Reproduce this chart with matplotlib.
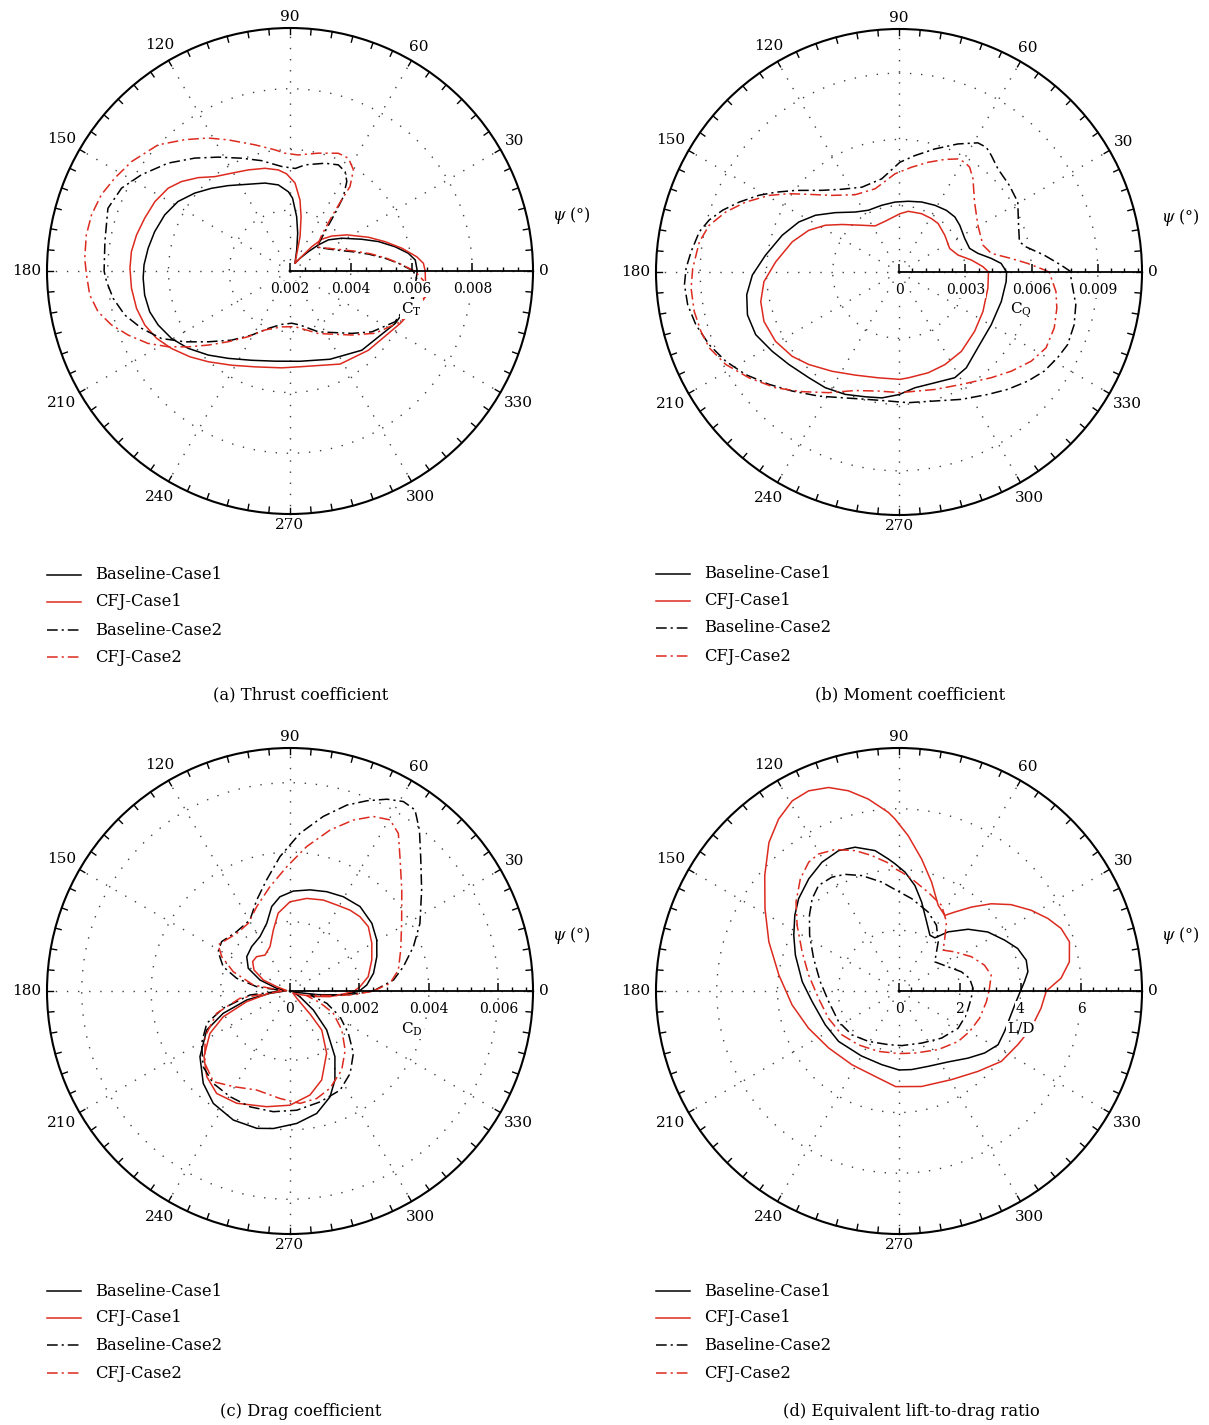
import numpy as np
import matplotlib.pyplot as plt
from matplotlib.lines import Line2D

plt.rcParams['font.family'] = 'DejaVu Serif'
plt.rcParams['mathtext.fontset'] = 'dejavuserif'

W, H = 1209, 1425
R_PX = 243
RED = '#dd2a1e'
DASHDOT = (0, (7, 2.6, 1.4, 2.6))

series_names = ['Baseline-Case1', 'CFJ-Case1', 'Baseline-Case2', 'CFJ-Case2']
STYLES = [('k', '-'), (RED, '-'), ('k', DASHDOT), (RED, DASHDOT)]

# ---------------- thrust coefficient C_T vs azimuth psi (deg)
ct_psi_b1 = [0, 5, 8.5, 13, 18.4, 23.9, 32.3, 39, 42.6, 46.5, 51.8, 57, 72.3, 78.5, 83, 85, 88, 91.2, 97.7,
             105.9, 115.7, 125.9, 133.4, 140.7, 148.2, 155.9, 163.8, 170.9, 177.6, 182.8, 189.4, 196.2, 202.3,
             209.6, 217.2, 225.8, 234.8, 246.7, 260.5, 276.3, 294.4, 312.2, 333.5, 347.5, 360]
ct_b1 = [0.00619, 0.00614, 0.00594, 0.00555, 0.00507, 0.00458, 0.00402, 0.00363, 0.00327, 0.00288, 0.00253,
         0.0023, 0.00273, 0.00327, 0.0038, 0.0040, 0.0044, 0.00461, 0.00486, 0.00501, 0.00517, 0.00547, 0.00575,
         0.00605, 0.00634, 0.00652, 0.00664, 0.00673, 0.00681, 0.00684, 0.00685, 0.00681, 0.00669, 0.00649,
         0.00621, 0.00586, 0.00552, 0.0052, 0.00501, 0.00499, 0.00519, 0.00552, 0.00587, 0.00616, 0.00619]

ct_psi_c1 = [0, 3.3, 6.4, 11.5, 17.1, 23.3, 32.4, 40, 45, 48.2, 50.3, 57, 73.7, 78.5, 82, 86.7, 92, 96.6, 103.7,
             112.4, 120.8, 128.5, 134.5, 140.5, 145.8, 152.8, 160, 166.8, 173, 179, 186.2, 193.7, 200.4, 206.8,
             213.2, 220.6, 228, 238.2, 249.9, 265.1, 276, 298.3, 314.7, 334.6, 349.4, 360]
ct_c1 = [0.00645, 0.0064, 0.0062, 0.00576, 0.00528, 0.00481, 0.00422, 0.00379, 0.00348, 0.00307, 0.00269,
         0.0023, 0.00318, 0.00383, 0.00436, 0.0049, 0.0052, 0.00535, 0.00548, 0.0056, 0.00575, 0.00597, 0.00631,
         0.00663, 0.00685, 0.007, 0.00709, 0.00719, 0.00726, 0.00727, 0.00725, 0.0072, 0.0071, 0.00692, 0.00666,
         0.00634, 0.00602, 0.00565, 0.00536, 0.0052, 0.00517, 0.00548, 0.00567, 0.00602, 0.00655, 0.00645]

ct_psi_b2 = [0, 4.1, 7.6, 12.2, 17.4, 25, 41.6, 49.3, 52, 54.3, 57.6, 61, 65.5, 72, 81.9, 87, 94.5, 104.4, 113.2,
             122.2, 130.1, 138.5, 147.1, 153.8, 161, 171, 180, 183.3, 188.8, 194.9, 201.1, 207.7, 214, 220.9,
             229.8, 239.1, 249.3, 261.1, 271.9, 280.5, 295, 314.7, 323.4, 334.2, 348, 356, 360]
ct_b2 = [0.00606, 0.00558, 0.00516, 0.00464, 0.00413, 0.00364, 0.00318, 0.00386, 0.00441, 0.00501, 0.00549,
         0.00574, 0.00584, 0.00573, 0.00553, 0.00538, 0.00545, 0.00575, 0.00604, 0.00643, 0.00686, 0.00736,
         0.00783, 0.00818, 0.00834, 0.00817, 0.00812, 0.00805, 0.00789, 0.00763, 0.00724, 0.00678, 0.00617,
         0.00556, 0.00498, 0.00446, 0.00402, 0.00378, 0.00372, 0.00381, 0.00421, 0.00489, 0.00536, 0.00584,
         0.00612, 0.0062, 0.00606]

ct_psi_c2 = [0, 4, 7.6, 12.2, 17.4, 25, 41.6, 48.6, 52.5, 54, 54.6, 57.9, 62.6, 67.7, 76.5, 85.9, 92.4, 97.1,
             105.5, 115.2, 121.6, 128.7, 136.3, 145.4, 152.1, 158, 164.2, 170, 176.5, 181.1, 186.8, 192, 196.8,
             201.6, 207, 211.9, 216.7, 222.2, 228.9, 237.6, 247, 261.5, 275.1, 294.4, 314, 323.8, 334.5, 348, 356,
             360]
ct_c2 = [0.0061, 0.0056, 0.0052, 0.0047, 0.0042, 0.0037, 0.00318, 0.00358, 0.00426, 0.00489, 0.00541, 0.00593,
         0.00618, 0.00619, 0.00599, 0.00583, 0.00588, 0.00602, 0.00631, 0.00677, 0.00714, 0.00754, 0.00801,
         0.00834, 0.00853, 0.0087, 0.00879, 0.00881, 0.00877, 0.0087, 0.00864, 0.00846, 0.00814, 0.00773, 0.00725,
         0.00672, 0.00618, 0.00563, 0.00509, 0.00456, 0.00411, 0.00386, 0.00384, 0.00426, 0.00493, 0.00547,
         0.00596, 0.0065, 0.0064, 0.0061]

# ---------------- moment coefficient C_Q
cq_psi_b1 = [0, 4.8, 8.4, 13.3, 18.5, 27, 37.6, 44.6, 52.4, 61.7, 72.1, 82.5, 93.3, 104.5, 116.3, 126.1, 137,
             145.8, 153.5, 162.5, 172.8, 181.2, 188.5, 195.8, 203.6, 212, 220, 229.5, 237.5, 246.3, 255, 262.3,
             270, 277.8, 287.9, 297.8, 305.1, 316.1, 330.2, 343.9, 354.9, 360]
cq_b1 = [0.00487, 0.00464, 0.00422, 0.00367, 0.00337, 0.00334, 0.00347, 0.00355, 0.00352, 0.00343, 0.00333,
         0.00323, 0.00317, 0.00312, 0.00312, 0.00336, 0.00394, 0.00457, 0.00507, 0.00554, 0.00609, 0.00664,
         0.00697, 0.00713, 0.00708, 0.00677, 0.00651, 0.00629, 0.00621, 0.00605, 0.00585, 0.00575, 0.00555,
         0.00529, 0.00527, 0.00541, 0.0053, 0.00495, 0.00481, 0.00482, 0.00487, 0.00487]

cq_psi_c1 = [0, 3.6, 9.4, 16, 24.9, 38.8, 51.1, 58.7, 68.9, 81.3, 89, 105.4, 117.4, 128.4, 140.2, 147.6, 155.2,
             164.2, 175.3, 184.1, 192.1, 200.1, 209.3, 218.3, 225.7, 236, 247, 259, 270.5, 275, 286.1, 296.3,
             308.2, 321.9, 334.8, 349.7, 360]
cq_c1 = [0.00405, 0.00381, 0.00332, 0.00278, 0.00253, 0.00266, 0.00282, 0.00283, 0.00283, 0.00278, 0.00264,
         0.00238, 0.00235, 0.0027, 0.00336, 0.00395, 0.0045, 0.00502, 0.0056, 0.00613, 0.0064, 0.00651, 0.00641,
         0.00616, 0.00585, 0.00542, 0.00507, 0.00488, 0.00486, 0.00481, 0.00475, 0.00468, 0.00457, 0.00435,
         0.0042, 0.00409, 0.00405]

cq_psi_b2 = [0, 2.5, 6.6, 11.2, 14.1, 22.7, 30.5, 38.1, 46.2, 51.6, 55, 58.6, 65.3, 73.8, 82.2, 89.5, 100.5,
             113.6, 124.6, 133.3, 141.7, 147.1, 151.3, 156.4, 160.7, 164.7, 168.6, 174.5, 179, 183.4, 188.8, 194.6,
             201, 207.3, 213.8, 220.8, 228.1, 237.1, 245.6, 255.1, 265.3, 274, 285.5, 296.1, 306, 312.8, 319.7,
             325.7, 331.6, 336.7, 343.2, 349.5, 358.4, 360]
cq_b2 = [0.0078, 0.00733, 0.00662, 0.00586, 0.00562, 0.00586, 0.00624, 0.00635, 0.00647, 0.00673, 0.00689,
         0.00685, 0.00638, 0.0058, 0.00532, 0.00497, 0.00429, 0.00419, 0.00455, 0.00508, 0.00596, 0.00665,
         0.00723, 0.0079, 0.00846, 0.00891, 0.00922, 0.00946, 0.00964, 0.00973, 0.00968, 0.0095, 0.0092, 0.00882,
         0.00835, 0.00778, 0.00724, 0.00669, 0.00625, 0.00596, 0.00586, 0.00593, 0.00606, 0.00642, 0.00685,
         0.00724, 0.00764, 0.00796, 0.00816, 0.00831, 0.00828, 0.00814, 0.00778, 0.0078]

cq_psi_c2 = [0, 1.5, 3.8, 6.9, 11.4, 17.8, 30.6, 42.8, 51.6, 56, 59.1, 62.5, 67.9, 75.1, 83.1, 92.3, 106, 119.5,
             131.2, 139.3, 144.6, 149.5, 155.5, 160.9, 166.2, 171.4, 179, 184.5, 190.9, 196.7, 201.8, 208.1, 215.2,
             223.2, 231, 239.8, 249.7, 260.2, 270.5, 287, 299, 311.1, 318.5, 326, 332.7, 340.2, 347.1, 352.9, 360]
cq_c2 = [0.0068, 0.0064, 0.00584, 0.00511, 0.00426, 0.00399, 0.00415, 0.00466, 0.00539, 0.00572, 0.00579,
         0.00577, 0.0055, 0.00514, 0.00478, 0.00445, 0.00392, 0.00402, 0.00461, 0.00539, 0.00612, 0.00683,
         0.00763, 0.0083, 0.00885, 0.00914, 0.00934, 0.00944, 0.00944, 0.00936, 0.00925, 0.00889, 0.00831,
         0.00766, 0.00697, 0.00632, 0.00572, 0.00547, 0.00546, 0.00556, 0.00582, 0.00635, 0.00678, 0.00722,
         0.00749, 0.00747, 0.00733, 0.00716, 0.0068]

# ---------------- drag coefficient C_D
cd_psi_b1 = [0, 4.5, 12, 21.6, 30.5, 39.6, 50.3, 60.5, 69.7, 78.8, 88.1, 96.1, 102.2, 109, 118.9, 130.8, 141.6,
             151.4, 159.9, 168.5, 176, 186.6, 191.7, 198.5, 205.1, 216.1, 226.8, 235.7, 246.3, 256.4, 263.1, 272.9,
             282.3, 290.7, 296.8, 304.4, 313.3, 320.8, 330, 340, 350, 352.5, 355.7, 360]
cd_b1 = [0.002, 0.00222, 0.00246, 0.00269, 0.0029, 0.00306, 0.00316, 0.00312, 0.00305, 0.00297, 0.00288,
         0.00273, 0.00249, 0.00206, 0.00179, 0.00169, 0.00159, 0.00137, 0.00092, 0.00039, 0.0001, 0.00058,
         0.00127, 0.00203, 0.00265, 0.00321, 0.00365, 0.00392, 0.00406, 0.00407, 0.00399, 0.00382, 0.00361,
         0.00326, 0.00287, 0.00229, 0.00154, 0.00087, 0.00033, 0.0001, 0.0003, 0.0008, 0.00154, 0.002]

cd_psi_c1 = [0, 3.5, 10.4, 20.8, 30.3, 39.4, 46.7, 53.5, 61.5, 69.9, 79.8, 90, 98.6, 105.3, 114.3, 124.8, 134.2,
             141.8, 149.7, 157.6, 162, 172, 186, 193.9, 201.1, 207.9, 217.4, 225.8, 234.4, 244.6, 258.6, 270,
             280.9, 289.6, 300.5, 309.1, 311, 313, 325, 340, 347, 351.9, 357.7, 360]
cd_c1 = [0.00185, 0.00202, 0.00229, 0.00252, 0.00273, 0.00292, 0.00294, 0.0029, 0.00282, 0.00279, 0.00271,
         0.00257, 0.00227, 0.00182, 0.0014, 0.00126, 0.00138, 0.00137, 0.0012, 0.00083, 0.0004, 0.0001, 0.0006,
         0.00129, 0.00206, 0.00261, 0.00312, 0.00344, 0.00363, 0.00358, 0.0034, 0.00329, 0.00305, 0.00272,
         0.00208, 0.00145, 0.0009, 0.0003, 0.0001, 0.0003, 0.0007, 0.00116, 0.00163, 0.00185]

cd_psi_b2 = [0, 6.1, 12.1, 19.8, 27.5, 37.5, 45.8, 51.2, 55.4, 59.1, 63.2, 68, 73, 79.2, 86.4, 94.3, 101.9, 110.1,
             119.4, 132, 144.2, 151.3, 160, 166.6, 172.6, 178, 185.7, 194.5, 201.2, 210.6, 221.1, 230.3, 240.4,
             250.9, 262.1, 273.2, 285.2, 296.8, 306.1, 315.5, 324, 332.8, 341.5, 346.3, 350, 353, 356.5, 360]
cd_b2 = [0.0024, 0.003, 0.00334, 0.00378, 0.00422, 0.00478, 0.0054, 0.00595, 0.00634, 0.00636, 0.00619, 0.00591,
         0.0056, 0.00512, 0.00455, 0.00388, 0.00327, 0.00279, 0.00235, 0.0023, 0.00243, 0.00236, 0.00205,
         0.00158, 0.00097, 0.0002, 0.00116, 0.00199, 0.00257, 0.00296, 0.00332, 0.00346, 0.0035, 0.00353,
         0.00351, 0.00344, 0.00331, 0.0032, 0.00294, 0.00256, 0.00208, 0.00162, 0.00112, 0.00069, 0.0006, 0.001,
         0.0017, 0.0024]

cd_psi_c2 = [0, 4.4, 11, 20.3, 31.2, 42.1, 50.7, 55.5, 59.7, 64.5, 69.7, 76, 83.4, 91.5, 100.9, 111.6, 121.6,
             132.7, 147.3, 153.3, 161.2, 170.7, 178, 188.3, 196.9, 208.3, 220.4, 229.8, 239.4, 251.4, 264.7, 275.1,
             284, 292.3, 303.2, 313, 323, 332.8, 338.7, 344.3, 350, 354, 357, 360]
cd_c2 = [0.0024, 0.00289, 0.00318, 0.0034, 0.00376, 0.00434, 0.005, 0.00551, 0.00571, 0.00557, 0.00525, 0.00478,
         0.00419, 0.00358, 0.00306, 0.00261, 0.00229, 0.00226, 0.00246, 0.0022, 0.00173, 0.00107, 0.0002,
         0.00146, 0.00221, 0.00278, 0.00322, 0.00342, 0.0032, 0.00301, 0.00311, 0.00325, 0.00319, 0.00303,
         0.00272, 0.00233, 0.00187, 0.0014, 0.00093, 0.0005, 0.0007, 0.0013, 0.0019, 0.0024]

# ---------------- equivalent lift-to-drag ratio L/D
ld_psi_b1 = [0, 4.2, 8.5, 13.6, 19.7, 25.7, 33.6, 41.8, 50.3, 56, 61, 68.2, 75.7, 81.4, 87.1, 91.8, 94.6, 99.7,
             107, 113.3, 120.9, 128.8, 137.4, 144, 152.1, 160.9, 174.5, 187, 204.7, 219.9, 239.8, 256.8, 270,
             279.1, 291.2, 304.7, 315.8, 324.1, 331.5, 339, 354.8, 360]
ld_b1 = [4.0, 4.14, 4.29, 4.31, 4.15, 3.86, 3.51, 3.05, 2.53, 2.11, 2.1, 2.45, 3.02, 3.51, 3.92, 4.19, 4.36, 4.69,
         4.95, 5.03, 4.94, 4.74, 4.49, 4.24, 3.92, 3.61, 3.2, 2.88, 2.67, 2.59, 2.47, 2.49, 2.6, 2.62, 2.66, 2.84,
         3.17, 3.48, 3.71, 3.72, 3.87, 4.0]

ld_psi_c1 = [0, 4.5, 9.7, 16.1, 21.1, 26, 31.4, 37.6, 43.4, 49.2, 54.8, 58.8, 65.4, 73.3, 80.3, 86.6, 91.3, 93.4,
             99.1, 104.2, 109.1, 114.3, 119.3, 125, 131.2, 139.3, 148.4, 159.3, 172.4, 187.4, 202.4, 219, 237.4,
             254.4, 268, 283.3, 300.6, 314.5, 325.5, 335.6, 344.3, 353.1, 360]
ld_c1 = [4.85, 5.35, 5.69, 5.84, 5.72, 5.45, 5.1, 4.66, 4.18, 3.65, 3.18, 2.91, 3.1, 3.74, 4.41, 5.12, 5.66, 5.89,
         6.4, 6.8, 7.09, 7.23, 7.18, 6.91, 6.5, 5.83, 5.18, 4.58, 3.99, 3.55, 3.22, 2.98, 2.88, 2.92, 3.15, 3.23,
         3.39, 3.71, 4.09, 4.29, 4.52, 4.71, 4.85]

ld_psi_b2 = [0, 2.1, 10.1, 17.1, 26.2, 39.2, 51.4, 60.3, 69.7, 82.2, 91, 99, 107.8, 114.8, 120.5, 127.3, 133.3,
             139.8, 148, 159.1, 173.3, 188.6, 206.8, 222.9, 238.8, 258.8, 272.8, 293.5, 312.1, 327.8, 340.5, 354.3,
             360]
ld_b2 = [2.42, 2.44, 2.36, 2.15, 1.8, 1.52, 2.07, 2.49, 2.77, 3.07, 3.3, 3.63, 3.99, 4.23, 4.35, 4.37, 4.17, 3.86,
         3.47, 3.01, 2.61, 2.34, 2.23, 2.12, 1.94, 1.8, 1.8, 1.87, 2.09, 2.3, 2.35, 2.39, 2.42]

ld_psi_c2 = [0, 1.7, 9.8, 16.8, 25.3, 35.1, 42.8, 48.9, 55.5, 63.6, 73.6, 83.6, 88.7, 91.9, 94.8, 101.4, 107.3,
             114.3, 120.4, 125, 131.3, 139.2, 147.2, 158, 170, 185.2, 201.1, 217.5, 233, 251.2, 270, 284.4, 303.7,
             319.5, 330.2, 341.4, 353, 360]
ld_c2 = [2.96, 2.98, 3.08, 2.94, 2.64, 2.24, 1.98, 2.29, 2.76, 3.15, 3.39, 3.72, 3.91, 4.03, 4.23, 4.55, 4.84,
         5.11, 5.23, 5.18, 4.92, 4.48, 3.99, 3.44, 3.02, 2.66, 2.49, 2.37, 2.22, 2.1, 2.06, 2.11, 2.32, 2.56, 2.68,
         2.8, 2.9, 2.96]

fig = plt.figure(figsize=(W / 100, H / 100), dpi=100)


def polar_panel(cx, cy, rmin, rmax, majors, minor_step, ticklabels, title, curves):
    rect = [(cx - R_PX) / W, 1 - (cy + R_PX) / H, 2 * R_PX / W, 2 * R_PX / H]
    ax = fig.add_axes(rect, projection='polar')
    ax.set_thetagrids(np.arange(0, 360, 30), labels=[''] * 12)
    ax.set_rgrids(majors[1:], labels=[''] * (len(majors) - 1))
    ax.grid(True, color='0.25', linestyle=(0, (1, 7)), linewidth=1.0)
    ax.tick_params(length=0, pad=0)
    ax.spines['polar'].set_linewidth(1.5)

    for (psi, val), (color, ls) in zip(curves, STYLES):
        ax.plot(np.deg2rad(psi), np.clip(val, rmin, rmax), color=color, ls=ls, lw=1.1, zorder=3)

    # rim ticks every 5 degrees, pointing inward
    tick_len = (rmax - rmin) * 6 / R_PX
    for a in np.deg2rad(np.arange(0, 360, 5)):
        ax.plot([a, a], [rmax - tick_len, rmax], color='k', lw=1.0, clip_on=False, zorder=4)

    # radial axis along psi = 0
    minors = [v for v in np.arange(rmin, rmax + 1e-12, minor_step)
              if min(abs(v - m) for m in majors) > minor_step * 0.1 and v < rmax - minor_step * 0.1]
    ax.plot([0, 0], [rmin, rmax], color='k', lw=1.3, zorder=5, clip_on=False)
    ax.plot(np.zeros(len(majors)), majors, ls='none', marker=2, ms=5.5, mew=1.1, color='k',
            zorder=5, clip_on=False)
    ax.plot(np.zeros(len(minors)), minors, ls='none', marker=2, ms=3, mew=1.0, color='k',
            zorder=5, clip_on=False)
    box = dict(boxstyle='square,pad=0.08', fc='white', ec='none')
    for v, s in zip(majors, ticklabels):
        ax.annotate(s, xy=(0, v), xytext=(0, -11), textcoords='offset pixels', ha='center', va='top',
                    fontsize=10, zorder=6, annotation_clip=False, bbox=box)
    ax.annotate(title, xy=(0, (rmin + rmax) / 2), xytext=(0, -38), textcoords='offset pixels',
                ha='center', va='center', fontsize=11, zorder=6, annotation_clip=False, bbox=box)
    ax.annotate(r'$\psi$ (°)', xy=(0, rmax), xytext=(38, 55), textcoords='offset pixels',
                ha='center', va='center', fontsize=11.5, annotation_clip=False)

    # azimuth labels outside the rim
    for a in range(0, 360, 30):
        t = np.deg2rad(a)
        s = str(a)
        d = 6 + 0.5 * 9.5 * len(s) * abs(np.cos(t)) + 5 * abs(np.sin(t))
        ax.annotate(s, xy=(t, rmax), xytext=(d * np.cos(t), d * np.sin(t)), textcoords='offset pixels',
                    ha='center', va='center', fontsize=11, annotation_clip=False)

    ax.set_ylim(rmin, rmax)
    return ax


def legend_block(x0, x1, tx, rows_y, cap_x, cap_y, caption):
    for y, name, (color, ls) in zip(rows_y, series_names, STYLES):
        fig.add_artist(Line2D([x0 / W, x1 / W], [1 - y / H, 1 - y / H], transform=fig.transFigure,
                              color=color, ls=ls, lw=1.1))
        fig.text(tx / W, 1 - y / H, name, ha='left', va='center', fontsize=11.8)
    fig.text(cap_x / W, 1 - cap_y / H, caption, ha='center', va='center', fontsize=11.8)


polar_panel(290, 271, 0.002, 0.010, [0.002, 0.004, 0.006, 0.008], 0.0005,
            ['0.002', '0.004', '0.006', '0.008'], r'C$_\mathrm{T}$',
            [(ct_psi_b1, ct_b1), (ct_psi_c1, ct_c1), (ct_psi_b2, ct_b2), (ct_psi_c2, ct_c2)])
polar_panel(899, 272, 0.0, 0.011, [0.0, 0.003, 0.006, 0.009], 0.0006,
            ['0', '0.003', '0.006', '0.009'], r'C$_\mathrm{Q}$',
            [(cq_psi_b1, cq_b1), (cq_psi_c1, cq_c1), (cq_psi_b2, cq_b2), (cq_psi_c2, cq_c2)])
polar_panel(290, 991, 0.0, 0.007, [0.0, 0.002, 0.004, 0.006], 0.0004,
            ['0', '0.002', '0.004', '0.006'], r'C$_\mathrm{D}$',
            [(cd_psi_b1, cd_b1), (cd_psi_c1, cd_c1), (cd_psi_b2, cd_b2), (cd_psi_c2, cd_c2)])
polar_panel(899, 991, 0.0, 8.0, [0, 2, 4, 6], 0.4,
            ['0', '2', '4', '6'], 'L/D',
            [(ld_psi_b1, ld_b1), (ld_psi_c1, ld_c1), (ld_psi_b2, ld_b2), (ld_psi_c2, ld_c2)])

legend_block(47, 81, 95, [575, 602, 630, 657], 301, 695, '(a) Thrust coefficient')
legend_block(656, 690, 704, [574, 601, 628, 656], 910, 695, '(b) Moment coefficient')
legend_block(47, 81, 95, [1291, 1318, 1345, 1373], 301, 1411, '(c) Drag coefficient')
legend_block(656, 690, 704, [1291, 1318, 1345, 1373], 911, 1411, '(d) Equivalent lift-to-drag ratio')

fig.savefig('out.png', dpi=100, facecolor='white')
